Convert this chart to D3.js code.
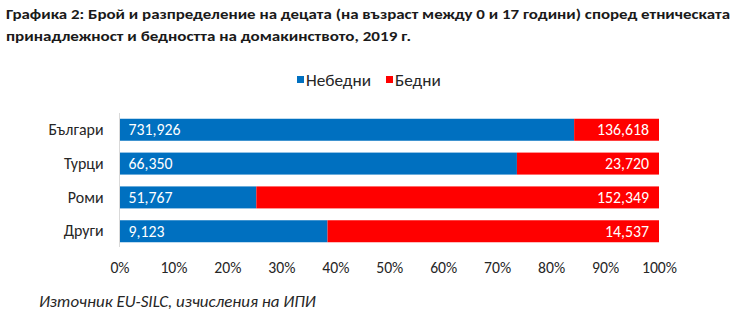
<!DOCTYPE html>
<html>
<head>
<meta charset="utf-8">
<script src="https://cdn.jsdelivr.net/npm/d3@7"></script>
<style>
  html, body { margin: 0; padding: 0; background: #fff; }
  svg { display: block; font-family: Carlito, Calibri, "Open Sans", "Noto Sans", sans-serif; }
</style>
</head>
<body>
<svg id="chart" width="740" height="327"></svg>
<script>
// Ethnic groups (rows, top to bottom)
const categories = ["Българи", "Турци", "Роми", "Други"];
// Number of children by household poverty status
const nonPoor = [731926, 66350, 51767, 9123];
const poor = [136618, 23720, 152349, 14537];
const seriesNames = ["Небедни", "Бедни"];
const seriesColors = ["#0070C0", "#FF0000"];
const tickValues = [0, 0.1, 0.2, 0.3, 0.4, 0.5, 0.6, 0.7, 0.8, 0.9, 1.0];

const titleLines = [
  "Графика 2: Брой и разпределение на децата (на възраст между 0 и 17 години) според етническата",
  "принадлежност и бедността на домакинството, 2019 г."
];
const sourceText = "Източник EU-SILC, изчисления на ИПИ";

const FONT = "Carlito, Calibri, 'Open Sans', 'Noto Sans', sans-serif";
const svg = d3.select("#chart");

// Scale the font size of a group of texts so that a reference element has the given width
function fitGroup(selection, refNode, width) {
  const fs = parseFloat(refNode.getAttribute("font-size"));
  const w = refNode.getComputedTextLength();
  selection.attr("font-size", (fs * width / w).toFixed(2));
}

// Table of rows with shares for a 100% stacked bar
const rows = categories.map((c, i) => {
  const total = nonPoor[i] + poor[i];
  return { cat: c, "Небедни": nonPoor[i] / total, "Бедни": poor[i] / total,
           values: { "Небедни": nonPoor[i], "Бедни": poor[i] } };
});
const stack = d3.stack().keys(seriesNames)(rows);

const x = d3.scaleLinear().domain([0, 1]).range([119.5, 659]);
const y = d3.scaleBand().domain(categories).range([113, 248]).paddingInner(0.35).paddingOuter(0.17);
const color = d3.scaleOrdinal().domain(seriesNames).range(seriesColors);

// Title
const title = svg.append("g");
titleLines.forEach((t, i) => {
  title.append("text")
    .attr("x", 6).attr("y", 19 + i * 22)
    .attr("font-size", 14).attr("font-weight", "bold").attr("fill", "#1a1a1a")
    .attr("textLength", i === 0 ? 724 : 405).attr("lengthAdjust", "spacingAndGlyphs")
    .text(t);
});

// Legend
const legend = svg.append("g");
const legendPos = [297, 386];
const legendTexts = [];
seriesNames.forEach((s, i) => {
  legend.append("rect").attr("x", legendPos[i]).attr("y", 76).attr("width", 7).attr("height", 7)
    .attr("fill", color(s));
  legendTexts.push(legend.append("text").attr("x", legendPos[i] + 9).attr("y", 79.5)
    .attr("dy", "0.36em").attr("font-size", 14).attr("fill", "#262626")
    .text(s).node());
});
fitGroup(d3.selectAll(legendTexts), legendTexts[0], 65);

// Bars
const layers = svg.append("g").selectAll("g").data(stack).join("g")
  .attr("fill", d => color(d.key));
layers.selectAll("rect").data(d => d.map(p => ({ p, key: d.key }))).join("rect")
  .attr("x", d => x(d.p[0]))
  .attr("y", d => y(d.p.data.cat))
  .attr("width", d => x(d.p[1]) - x(d.p[0]))
  .attr("height", y.bandwidth());

// Value labels: non-poor at the left of the bar, poor at the right end
const labels = svg.append("g").attr("fill", "#fff");
stack.forEach((layer, li) => {
  layer.forEach(p => {
    const v = p.data.values[layer.key];
    const t = labels.append("text")
      .attr("y", y(p.data.cat) + y.bandwidth() / 2)
      .attr("dy", "0.36em").attr("font-size", 14)
      .text(d3.format(",")(v));
    if (li === 0) t.attr("x", x(p[0]) + 9).attr("text-anchor", "start");
    else t.attr("x", x(p[1]) - 10).attr("text-anchor", "end");
  });
});
fitGroup(labels.selectAll("text"), labels.select("text").node(), 52);

// Category axis (vertical line with labels)
const yAxis = svg.append("g").attr("transform", `translate(${x(0)},0)`)
  .call(d3.axisLeft(y).tickSize(0).tickPadding(16));
yAxis.select(".domain").attr("stroke", "#d9d9d9").attr("d", "M0,113V247");
const yText = yAxis.selectAll("text").attr("font-size", 14).attr("fill", "#262626")
  .attr("font-family", FONT);
fitGroup(yText, yText.nodes()[0], 55);

// Percent axis (labels only)
const xAxis = svg.append("g").attr("transform", "translate(0,262)")
  .call(d3.axisBottom(x).tickValues(tickValues).tickFormat(d3.format(".0%")).tickSize(0).tickPadding(0));
xAxis.select(".domain").remove();
const xText = xAxis.selectAll("text").attr("font-size", 14).attr("fill", "#262626")
  .attr("font-family", FONT);
fitGroup(xText, xText.nodes()[xText.size() - 1], 35);

// Source note
const src = svg.append("text").attr("x", 39).attr("y", 307)
  .attr("font-size", 14).attr("font-style", "italic").attr("fill", "#262626")
  .text(sourceText);
fitGroup(src, src.node(), 277);
</script>
</body>
</html>
